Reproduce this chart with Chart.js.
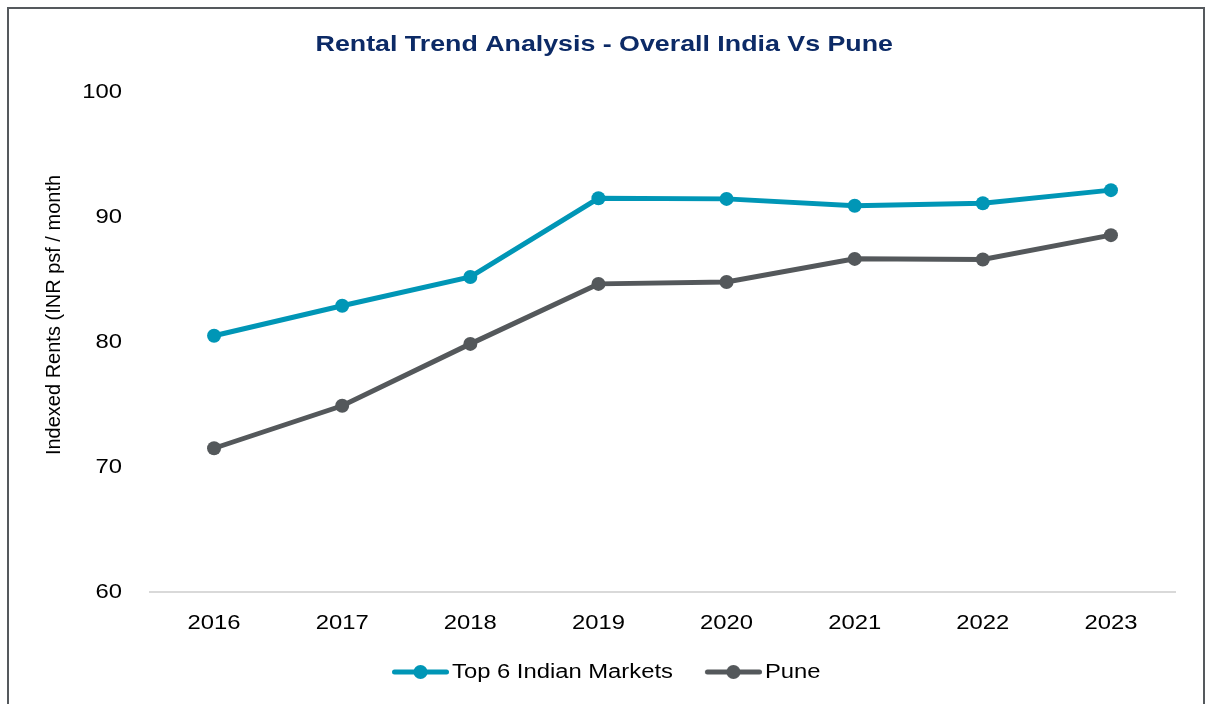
<!DOCTYPE html>
<html>
<head>
<meta charset="utf-8">
<script src="https://cdn.jsdelivr.net/npm/chart.js@4.4.0/dist/chart.umd.min.js"></script>
<style>
  html, body { margin: 0; padding: 0; background: #ffffff; overflow: hidden; }
  #wrap { position: relative; width: 1205px; height: 704px; }
  #frame { position: absolute; left: 7px; top: 7px; width: 1198px; height: 760px; box-sizing: border-box;
           border: 2px solid #55595d; border-bottom: none; pointer-events: none; }
  canvas { position: absolute; left: 0; top: 0; }
</style>
</head>
<body>
<div id="wrap">
  <canvas id="c" width="1205" height="704"></canvas>
  <div id="frame"></div>
</div>
<script>
const categories = ['2016', '2017', '2018', '2019', '2020', '2021', '2022', '2023'];
const top6Markets = [80.5, 82.9, 85.2, 91.5, 91.45, 90.9, 91.1, 92.15];
const pune = [71.5, 74.9, 79.85, 84.65, 84.8, 86.65, 86.6, 88.55];
const seriesNames = ['Top 6 Indian Markets', 'Pune'];
const seriesColors = ['#0096b6', '#54585b'];
const chartTitle = 'Rental Trend Analysis - Overall India Vs Pune';
const yAxisTitle = 'Indexed Rents (INR psf / month';
const yMin = 60, yMax = 100, yStep = 10;

const FONT = "'Liberation Sans', Arial, sans-serif";

// The reference renders horizontal text slightly wider than the font's natural width.
const SX = 1.19;
const proto = CanvasRenderingContext2D.prototype;
const origFillText = proto.fillText;
const origMeasure = proto.measureText;
proto.fillText = function (text, x, y, maxWidth) {
  this.save();
  this.translate(x, y);
  this.scale(SX, 1);
  if (maxWidth === undefined || maxWidth === null) origFillText.call(this, text, 0, 0);
  else origFillText.call(this, text, 0, 0, maxWidth / SX);
  this.restore();
};
proto.measureText = function (text) {
  const m = origMeasure.call(this, text);
  return {
    width: m.width * SX,
    actualBoundingBoxLeft: m.actualBoundingBoxLeft * SX,
    actualBoundingBoxRight: m.actualBoundingBoxRight * SX,
    actualBoundingBoxAscent: m.actualBoundingBoxAscent,
    actualBoundingBoxDescent: m.actualBoundingBoxDescent,
    fontBoundingBoxAscent: m.fontBoundingBoxAscent,
    fontBoundingBoxDescent: m.fontBoundingBoxDescent
  };
};

function legendIcon(color) {
  const cv = document.createElement('canvas');
  cv.width = 68; cv.height = 16;
  const g = cv.getContext('2d');
  g.strokeStyle = color; g.lineWidth = 5; g.lineCap = 'round';
  g.beginPath(); g.moveTo(13.5, 8); g.lineTo(65.5, 8); g.stroke();
  g.fillStyle = color;
  g.beginPath(); g.arc(39.5, 8, 7, 0, Math.PI * 2); g.fill();
  return cv;
}
const icons = seriesColors.map(legendIcon);

const yTitlePlugin = {
  id: 'yTitlePlugin',
  afterDraw(chart) {
    const ctx = chart.ctx;
    ctx.save();
    ctx.translate(54, 315);
    ctx.rotate(-Math.PI / 2);
    ctx.font = '20px ' + FONT;
    ctx.fillStyle = '#000000';
    ctx.textAlign = 'center';
    ctx.textBaseline = 'middle';
    origFillText.call(ctx, yAxisTitle, 0, 0);
    ctx.restore();
  }
};

new Chart(document.getElementById('c'), {
  type: 'line',
  data: {
    labels: categories,
    datasets: [
      { label: seriesNames[0], data: top6Markets, borderColor: seriesColors[0], backgroundColor: seriesColors[0],
        borderWidth: 5, pointRadius: 7, pointHoverRadius: 7, pointBorderWidth: 0, pointBackgroundColor: seriesColors[0], tension: 0 },
      { label: seriesNames[1], data: pune, borderColor: seriesColors[1], backgroundColor: seriesColors[1],
        borderWidth: 5, pointRadius: 7, pointHoverRadius: 7, pointBorderWidth: 0, pointBackgroundColor: seriesColors[1], tension: 0 }
    ]
  },
  options: {
    responsive: false,
    animation: false,
    devicePixelRatio: 1,
    layout: { padding: { left: 33.5, right: 30, top: 0, bottom: 12 } },
    plugins: {
      tooltip: { enabled: false },
      title: {
        display: true, text: chartTitle, color: '#0c2a66',
        font: { family: FONT, size: 22.5, weight: 'bold' },
        padding: { top: 31.5, bottom: 33.5 }
      },
      legend: {
        display: true, position: 'bottom', align: 'center',
        labels: {
          usePointStyle: true, pointStyleWidth: 54, padding: 28,
          color: '#000000', font: { family: FONT, size: 20 },
          generateLabels(chart) {
            return chart.data.datasets.map((ds, i) => ({
              text: ds.label, fillStyle: ds.borderColor, strokeStyle: ds.borderColor,
              lineWidth: 0, pointStyle: icons[i], hidden: false, datasetIndex: i, fontColor: '#000000'
            }));
          }
        }
      }
    },
    scales: {
      x: {
        offset: true,
        grid: { display: false, drawTicks: false },
        border: { display: true, color: '#d9d9d9', width: 2 },
        ticks: { color: '#000000', font: { family: FONT, size: 20 }, padding: 19, maxRotation: 0 },
        afterFit(scale) { scale.height = 42; }
      },
      y: {
        min: yMin, max: yMax,
        grid: { display: false, drawTicks: false },
        border: { display: false },
        ticks: { stepSize: yStep, color: '#000000', font: { family: FONT, size: 20 }, padding: 28 },
        afterFit(scale) { scale.width = 116.5; }
      }
    }
  },
  plugins: [yTitlePlugin]
});
</script>
</body>
</html>
